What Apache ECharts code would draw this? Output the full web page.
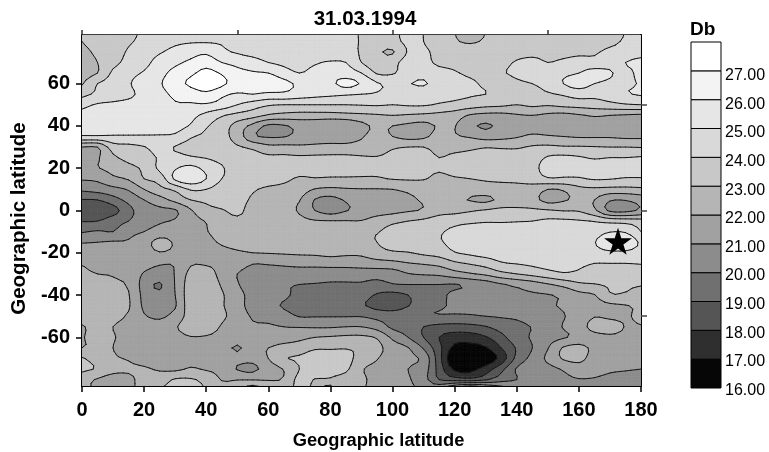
<!DOCTYPE html>
<html><head><meta charset="utf-8">
<style>html,body{margin:0;padding:0;background:#fff}#c{width:769px;height:452px}</style>
<script src="https://cdn.jsdelivr.net/npm/echarts@6/dist/echarts.min.js"></script>
</head><body><div id="c"></div>
<script>
const lons=[0,5,10,15,20,25,30,35,40,45,50,55,60,65,70,75,80,85,90,95,100,105,110,115,120,125,130,135,140,145,150,155,160,165,170,175,180];
const lats=[85,80,75,70,65,60,55,50,45,40,35,30,25,20,15,10,5,0,-5,-10,-15,-20,-25,-30,-35,-40,-45,-50,-55,-60,-65,-70,-75,-80,-85];
const xTicks=[0,20,40,60,80,100,120,140,160,180];
const yTicks=[-60,-40,-20,0,20,40,60];
const topTicks=[0,50,100,150];
const rightTicks=[-50,0,50];
const levels=[16,17,18,19,20,21,22,23,24,25,26,27];
const bandColors=['#060606','#2f2f2f','#555555','#707070','#8c8c8c','#a1a1a1','#b5b5b5','#c8c8c8','#d9d9d9','#e6e6e6','#f3f3f3','#ffffff'];
const star=[[172.6,-14.6]];
const r85=[23.0,23.3,23.5,23.8,24.1,24.3,24.5,24.6,24.6,24.5,24.5,24.5,24.5,24.5,24.5,24.5,24.4,24.3,23.9,23.6,23.8,24.2,24.0,23.6,23.0,22.7,23.0,23.3,23.4,23.5,23.5,23.5,23.6,23.7,23.8,24.0,24.2];
const r80=[23.0,23.4,23.6,23.9,24.2,24.5,24.8,24.9,24.9,24.9,24.8,24.7,24.6,24.6,24.6,24.6,24.5,24.4,23.9,23.5,23.7,24.2,24.0,23.7,23.1,22.9,23.1,23.3,23.4,23.5,23.5,23.5,23.6,23.7,23.8,24.1,24.3];
const r75=[22.7,23.2,23.6,24.1,24.5,24.9,25.3,25.6,25.8,25.2,24.9,24.7,24.6,24.5,24.5,24.5,24.4,24.3,23.9,23.2,22.9,24.1,24.1,23.8,23.5,23.4,23.5,23.6,23.6,23.7,23.7,23.7,23.8,23.9,24.2,24.4,24.6];
const r70=[22.6,23.0,23.7,24.3,24.7,25.4,25.8,26.2,26.6,26.0,25.7,25.4,25.0,24.8,24.7,24.9,25.1,25.0,24.0,23.4,23.7,24.4,24.3,23.8,23.7,23.6,23.5,23.7,24.1,24.3,24.0,24.2,24.4,24.3,24.6,25.0,25.3];
const r65=[22.6,23.0,24.2,24.7,25.1,25.7,26.3,26.8,27.3,26.9,26.3,26.1,26.0,25.4,25.0,25.3,25.6,25.5,25.0,23.9,23.9,24.5,24.6,24.4,24.1,23.8,23.6,23.9,24.2,24.5,24.6,24.8,25.0,25.4,25.1,24.7,25.4];
const r60=[22.9,24.0,24.4,24.9,25.5,25.9,26.6,27.2,27.8,27.2,26.6,26.4,26.7,26.3,25.8,25.5,25.8,26.3,25.9,25.1,24.8,24.95,25.1,24.6,24.4,24.2,23.8,23.5,23.8,24.0,24.3,25.0,25.4,25.0,24.8,24.8,25.1];
const r55=[23.7,24.2,24.5,24.8,25.3,25.7,26.2,26.4,26.7,26.2,25.9,26.0,25.8,25.8,25.5,25.3,25.2,25.1,25.0,24.9,24.6,24.5,24.4,24.4,24.3,24.1,24.0,23.8,23.5,23.7,23.9,24.1,24.4,24.3,24.5,24.9,25.1];
const r50=[24.7,25.1,25.2,25.3,25.4,25.5,25.9,25.9,25.9,25.6,25.0,24.5,24.1,24.0,24.0,24.0,24.0,24.0,24.05,24.1,24.0,24.1,24.1,23.9,23.7,23.5,23.3,23.2,23.0,23.2,23.1,23.3,23.4,23.5,23.7,23.9,24.0];
const r45=[25.3,25.5,25.6,25.6,25.6,25.6,25.6,25.3,24.7,24.1,23.7,23.4,22.9,22.7,22.6,22.6,22.6,22.7,22.8,22.9,23.0,22.9,22.8,22.7,22.5,21.9,21.7,21.7,21.9,22.0,21.8,21.7,21.9,22.1,22.0,21.9,21.8];
const r40=[25.4,25.5,25.5,25.5,25.5,25.5,25.4,24.9,24.1,23.5,22.6,21.7,20.8,20.9,21.3,21.3,21.1,21.1,21.7,22.2,22.0,21.8,21.7,22.1,22.05,21.2,20.9,21.2,21.4,21.5,21.4,21.3,21.4,21.5,21.5,21.4,21.2];
const r35=[24.9,24.9,24.9,24.9,24.9,24.9,24.8,24.1,23.8,23.3,22.6,21.2,20.9,20.95,21.3,21.6,21.5,21.5,21.9,22.4,22.0,21.7,21.8,22.4,22.1,21.9,21.6,21.7,21.9,22.2,22.1,22.0,21.9,21.9,21.9,21.8,21.8];
const r30=[22.0,22.0,23.5,23.7,23.95,24.4,23.95,23.7,23.6,23.4,23.1,22.8,22.3,22.3,22.2,22.2,22.3,22.3,22.4,22.6,22.9,23.0,23.0,22.7,22.7,22.8,22.95,22.9,22.9,23.1,23.2,23.1,23.1,23.05,23.0,23.0,22.95];
const r25=[21.8,21.9,22.8,23.3,23.6,24.1,24.3,24.1,23.95,23.7,23.5,23.4,23.2,23.2,23.15,23.2,23.2,23.2,23.1,23.05,23.2,23.3,23.3,23.0,23.2,23.3,23.4,23.4,23.4,23.5,24.1,24.2,24.1,23.9,24.0,24.0,24.1];
const r20=[21.6,21.95,22.3,22.7,23.2,24.2,24.9,25.3,24.7,24.1,23.6,24.0,23.5,23.4,23.3,23.3,23.3,23.3,23.2,23.2,23.4,23.4,23.3,23.1,23.4,23.4,23.5,23.6,23.6,23.7,24.4,24.2,24.4,24.5,24.6,24.6,24.6];
const r15=[21.1,21.2,21.8,22.1,23.0,23.4,25.2,25.7,25.0,24.0,23.7,23.6,23.5,23.2,22.9,22.95,22.9,22.9,22.9,22.9,23.05,23.1,23.05,22.8,22.9,23.0,23.1,23.15,23.2,23.4,23.9,23.9,23.9,24.1,24.05,23.9,23.9];
const r10=[20.2,20.4,20.7,21.1,22.0,22.7,23.2,24.1,24.0,23.5,23.3,23.1,22.8,22.7,22.5,21.95,21.8,21.9,21.95,21.95,22.0,22.2,22.5,22.8,22.6,22.5,22.6,22.7,22.7,22.6,22.0,22.1,22.7,22.8,22.7,22.7,22.8];
const r05=[18.95,19.0,19.6,20.3,21.0,21.6,22.3,23.0,23.2,23.3,23.2,22.9,22.5,22.3,22.05,20.95,20.7,21.1,21.5,21.5,21.6,21.8,22.1,22.2,22.2,21.95,21.8,22.2,22.3,22.3,21.7,21.9,22.2,22.0,21.1,21.05,21.4];
const r00=[18.2,18.1,18.6,19.7,20.5,20.8,20.9,21.9,22.7,22.95,23.1,22.8,22.6,22.3,21.9,21.0,20.6,20.95,21.3,21.5,21.7,21.9,22.1,22.6,22.7,22.9,23.1,23.3,23.3,23.2,23.1,22.95,22.9,22.2,20.8,20.7,21.2];
const s05=[18.95,19.0,19.6,20.0,20.6,20.9,21.1,21.7,22.05,22.7,22.9,22.85,22.6,22.5,22.3,22.1,22.05,22.05,22.05,22.5,22.8,23.0,23.2,23.5,23.7,23.8,23.9,23.9,23.95,24.0,24.2,24.2,24.1,23.95,23.7,23.6,23.4];
const s10=[19.9,20.1,20.0,20.7,21.0,21.4,21.6,21.8,21.95,22.4,22.7,22.7,22.7,22.7,22.8,22.9,22.9,22.9,22.9,22.95,23.3,23.5,23.6,23.9,24.2,24.5,24.6,24.6,24.6,24.7,24.8,24.8,24.8,24.6,24.95,24.9,24.0];
const s15=[20.95,21.0,21.1,21.1,21.6,22.3,21.9,21.8,21.8,22.1,22.3,22.3,22.4,22.4,22.5,22.7,22.8,22.8,22.8,23.0,23.5,23.6,23.7,23.9,24.3,24.6,24.7,24.8,24.8,24.8,24.8,24.8,24.8,24.95,25.7,25.7,24.8];
const s20=[21.4,21.4,21.4,21.5,21.6,21.95,21.8,21.7,21.7,21.8,21.9,22.0,22.05,22.1,22.15,22.2,22.3,22.2,22.2,22.6,22.85,22.95,23.2,23.4,23.95,24.2,24.4,24.5,24.6,24.7,24.8,24.8,24.8,24.7,24.8,24.8,24.6];
const s25=[21.95,21.8,21.7,21.6,21.4,21.1,21.1,21.9,21.9,21.8,21.5,21.05,21.1,21.2,21.3,21.3,21.4,21.4,21.5,21.6,21.7,21.95,22.1,22.3,22.8,23.1,23.4,23.9,24.05,24.2,24.4,24.4,24.2,24.0,24.0,24.0,24.05];
const s30=[22.1,22.0,21.95,21.7,20.9,20.6,21.05,22.3,22.4,21.7,21.0,20.6,20.5,20.5,20.5,20.5,20.4,20.4,20.4,20.4,20.5,20.95,21.1,21.2,21.6,21.9,22.2,22.7,23.0,23.3,23.6,23.9,23.8,23.6,23.5,23.5,23.5];
const s35=[22.3,22.2,22.1,21.9,20.6,19.9,21.05,22.5,22.6,21.9,21.1,20.4,20.3,20.1,20.0,19.95,19.9,19.9,19.9,19.7,19.95,20.0,20.0,20.0,19.95,20.2,20.5,20.9,21.2,21.5,21.9,22.3,22.8,22.95,23.1,23.1,23.05];
const s40=[22.4,22.4,22.2,22.05,20.7,20.2,21.0,22.6,22.7,22.1,21.4,20.6,20.4,20.2,19.7,19.6,19.5,19.5,19.4,18.9,18.7,19.0,19.6,19.8,20.2,20.4,20.6,20.8,20.85,20.9,20.95,21.2,21.7,21.95,22.9,22.9,22.7];
const s45=[22.6,22.5,22.3,22.1,20.8,20.4,20.9,22.6,22.7,22.1,21.4,20.6,20.3,19.9,19.5,19.4,19.3,19.2,19.1,18.7,18.5,18.95,19.6,19.9,20.1,20.3,20.6,20.7,20.8,20.8,20.9,21.1,21.4,21.7,21.8,21.95,22.2];
const s50=[22.5,22.5,22.2,21.9,21.1,20.8,21.4,22.4,22.6,22.2,21.5,20.9,20.7,20.4,19.95,19.95,19.95,19.95,19.95,19.7,19.6,19.8,19.9,19.95,19.9,19.9,20.0,20.1,20.2,20.5,20.7,20.95,21.4,21.95,21.8,21.9,22.2];
const s55=[21.9,22.3,22.0,21.8,21.6,21.5,21.9,22.5,22.5,21.9,21.3,21.1,21.1,21.0,20.95,20.9,20.9,21.0,21.0,20.6,19.8,19.6,19.0,18.7,18.6,18.7,18.95,19.4,19.7,20.05,20.5,21.05,21.5,22.4,22.5,21.95,21.95];
const s60=[21.9,22.4,22.05,21.8,21.7,21.6,21.7,21.95,21.9,21.7,21.4,21.2,21.1,21.3,21.7,22.0,22.1,22.2,22.2,21.9,20.8,20.0,19.0,18.0,17.5,17.5,17.9,18.7,19.6,20.1,20.6,20.9,21.3,21.6,21.8,21.8,21.7];
const s65=[22.0,22.2,22.0,21.7,21.6,21.6,21.6,21.6,21.5,21.4,20.9,21.5,22.0,22.5,22.6,22.9,22.9,22.95,22.8,22.3,21.5,21.05,19.9,18.3,16.7,16.6,16.9,18.0,19.1,20.0,20.95,22.1,22.3,21.8,21.8,21.8,21.8];
const s70=[23.1,22.6,22.1,21.95,21.7,21.6,21.7,21.7,21.5,21.4,21.3,21.3,22.0,22.9,23.1,23.4,23.5,23.3,22.6,22.05,21.5,21.2,20.7,18.4,16.0,15.8,16.2,17.4,19.3,20.3,21.2,22.1,22.2,21.7,21.7,21.7,21.7];
const s75=[23.2,22.9,22.3,22.1,22.1,21.9,21.8,22.1,21.9,21.7,20.95,20.8,21.5,22.05,23.0,23.6,23.6,23.2,22.1,21.7,21.4,21.0,20.5,18.6,16.8,16.7,17.5,18.7,20.1,20.6,20.7,21.1,21.6,21.5,21.2,21.1,21.0];
const s80=[22.4,21.9,21.5,21.8,22.3,22.5,23.1,23.1,22.7,21.95,21.97,21.95,21.95,22.1,23.3,22.95,22.9,22.5,22.2,21.6,21.3,21.1,20.4,19.0,18.6,18.4,18.9,19.6,20.0,20.4,20.6,20.8,20.95,20.9,20.7,20.6,20.5];
const s85=[22.4,21.7,21.0,21.6,22.6,23.1,23.3,23.3,23.0,22.5,22.8,24.0,22.7,22.7,23.2,22.9,23.2,22.6,22.1,21.6,21.3,21.2,21.0,21.5,23.5,25.0,23.5,22.0,21.0,20.6,20.6,20.8,20.9,20.8,20.6,20.5,20.4];
const rows=[r85,r80,r75,r70,r65,r60,r55,r50,r45,r40,r35,r30,r25,r20,r15,r10,r05,r00,s05,s10,s15,s20,s25,s30,s35,s40,s45,s50,s55,s60,s65,s70,s75,s80,s85];

// Contours are traced through a smooth surface over the values
const SUB=3;
function cr(p0,p1,p2,p3,t){return 0.5*((2*p1)+(-p0+p2)*t+(2*p0-5*p1+4*p2-p3)*t*t+(-p0+3*p1-3*p2+p3)*t*t*t);}
function fineSample(line){
  const out=[],n=line.length;
  for(let i=0;i<n-1;i++)for(let s=0;s<SUB;s++){
    out.push(cr(line[Math.max(i-1,0)],line[i],line[i+1],line[Math.min(i+2,n-1)],s/SUB));
  }
  out.push(line[n-1]);return out;
}
const fineByRow=rows.map(fineSample);
const fineCols=fineByRow[0].map((_,i)=>fineSample(fineByRow.map(r=>r[i])));
const fineLon=fineSample(lons),fineLat=fineSample(lats);
const cells=[];
for(let j=0;j<fineLat.length-1;j++)for(let i=0;i<fineLon.length-1;i++){
  cells.push([fineLon[i],fineLat[j],fineLon[i+1],fineLat[j+1],fineCols[i][j],fineCols[i+1][j],fineCols[i+1][j+1],fineCols[i][j+1]]);
}
function clipAbove(poly,L,sign){
  const out=[];
  for(let k=0;k<poly.length;k++){
    const a=poly[k],b=poly[(k+1)%poly.length];
    const da=sign*(a[2]-L),db=sign*(b[2]-L);
    if(da>=0)out.push(a);
    if((da>=0)!==(db>=0)){const t=da/(da-db);out.push([a[0]+t*(b[0]-a[0]),a[1]+t*(b[1]-a[1]),L]);}
  }
  return out;
}
function corners(api){
  const p=[api.coord([api.value(0),api.value(1)]),api.coord([api.value(2),api.value(1)]),
           api.coord([api.value(2),api.value(3)]),api.coord([api.value(0),api.value(3)])];
  return p.map((c,k)=>[c[0],c[1],api.value(4+k)]);
}
function renderFill(params,api){
  const q=corners(api),children=[];
  levels.forEach((L,b)=>{
    let poly=b===0?q:clipAbove(q,L,1);
    if(b<levels.length-1&&poly.length)poly=clipAbove(poly,levels[b+1],-1);
    if(poly.length>=3){
      children.push({type:'polygon',shape:{points:poly.map(v=>[v[0],v[1]])},
        style:{fill:bandColors[b],stroke:bandColors[b],lineWidth:0.7}});
    }
  });
  return {type:'group',children};
}
function renderLines(params,api){
  const q=corners(api),children=[];
  levels.slice(1).forEach(L=>{
    const pts=[];
    for(let k=0;k<4;k++){
      const a=q[k],b=q[(k+1)%4];
      if((a[2]>=L)!==(b[2]>=L)){const t=(L-a[2])/(b[2]-a[2]);pts.push([a[0]+t*(b[0]-a[0]),a[1]+t*(b[1]-a[1])]);}
    }
    for(let k=0;k+1<pts.length;k+=2){
      children.push({type:'line',shape:{x1:pts[k][0],y1:pts[k][1],x2:pts[k+1][0],y2:pts[k+1][1]},
        style:{stroke:'#151515',lineWidth:1,lineCap:'round'}});
    }
  });
  return {type:'group',children};
}
const legendData=levels.map((L,b)=>[L,L+1,b]);
function renderLegend(params,api){
  const a=api.coord([0,api.value(1)]),b=api.coord([1,api.value(0)]);
  return {type:'rect',shape:{x:a[0],y:a[1],width:b[0]-a[0],height:b[1]-a[1]},
    style:{fill:bandColors[api.value(2)],stroke:'#000',lineWidth:1}};
}
const FONT='"Liberation Sans",Arial,sans-serif';
const starPath='path://M50 0 L61.8 36.3 L100 36.3 L69.1 58.8 L80.9 95.1 L50 72.7 L19.1 95.1 L30.9 58.8 L0 36.3 L38.2 36.3 Z';
const chart=echarts.init(document.getElementById('c'),null,{renderer:'canvas'});
chart.setOption({
  animation:false,backgroundColor:'#fff',
  title:[
    {text:'31.03.1994',left:360,top:4,textAlign:'center',textStyle:{fontFamily:FONT,fontWeight:'bold',fontSize:20.5,color:'#000'}},
    {text:'Db',left:685,top:15,textStyle:{fontFamily:FONT,fontWeight:'bold',fontSize:19,color:'#000'}}
  ],
  grid:[
    {left:82,top:35,width:559,height:351,outerBoundsMode:'none'},
    {left:691,top:42,width:30,height:346,outerBoundsMode:'none'},
    {left:691,top:47,width:30,height:343.6,outerBoundsMode:'none'}
  ],
  xAxis:[
    {type:'value',gridIndex:0,min:0,max:180,interval:20,position:'bottom',
     name:'Geographic latitude',nameLocation:'middle',nameGap:46,
     nameTextStyle:{fontFamily:FONT,fontWeight:'bold',fontSize:18.3,color:'#000',padding:[0,0,0,34]},
     splitLine:{show:false},axisLine:{onZero:false,lineStyle:{color:'#000',width:2}},
     axisTick:{show:true,length:6,lineStyle:{color:'#000',width:1.5},customValues:xTicks},
     axisLabel:{fontFamily:FONT,fontWeight:'bold',fontSize:20,color:'#000',margin:14,customValues:xTicks}},
    {type:'value',gridIndex:0,min:0,max:180,position:'top',splitLine:{show:false},
     axisLine:{onZero:false,lineStyle:{color:'#000',width:1.5}},axisTick:{show:true,length:5,lineStyle:{color:'#333',width:1.5},customValues:topTicks},
     axisLabel:{show:false}},
    {type:'value',gridIndex:1,min:0,max:1,show:false},
    {type:'value',gridIndex:2,min:0,max:1,show:false}
  ],
  yAxis:[
    {type:'value',gridIndex:0,min:-83,max:83,position:'left',
     name:'Geographic latitude',nameLocation:'middle',nameGap:47,
     nameTextStyle:{fontFamily:FONT,fontWeight:'bold',fontSize:20.5,color:'#000',padding:[0,16,0,0]},
     splitLine:{show:false},axisLine:{onZero:false,lineStyle:{color:'#000',width:2}},
     axisTick:{show:true,length:6,lineStyle:{color:'#000',width:1.5},customValues:yTicks},
     axisLabel:{fontFamily:FONT,fontWeight:'bold',fontSize:20,color:'#000',margin:12,customValues:yTicks}},
    {type:'value',gridIndex:0,min:-83,max:83,position:'right',splitLine:{show:false},
     axisLine:{onZero:false,lineStyle:{color:'#000',width:2}},axisTick:{show:true,length:6,lineStyle:{color:'#444',width:1.5},customValues:rightTicks},
     axisLabel:{show:false}},
    {type:'value',gridIndex:1,min:16,max:28,show:false},
    {type:'value',gridIndex:2,min:16,max:28,position:'right',splitLine:{show:false},
     axisLine:{show:false},axisTick:{show:false},
     axisLabel:{fontFamily:FONT,fontSize:16,color:'#000',margin:4,customValues:levels,formatter:v=>v.toFixed(2)}}
  ],
  series:[
    {type:'custom',name:'fill',xAxisIndex:0,yAxisIndex:0,clip:true,silent:true,z:1,renderItem:renderFill,data:cells,encode:{x:[0,2],y:[1,3]},progressive:0},
    {type:'custom',name:'contours',xAxisIndex:0,yAxisIndex:0,clip:true,silent:true,z:2,renderItem:renderLines,data:cells,encode:{x:[0,2],y:[1,3]},progressive:0},
    {type:'scatter',name:'star',xAxisIndex:0,yAxisIndex:0,z:3,symbol:starPath,symbolSize:[28,27],itemStyle:{color:'#000',opacity:1},data:star,silent:true},
    {type:'custom',name:'legend',xAxisIndex:2,yAxisIndex:2,silent:true,renderItem:renderLegend,data:legendData,encode:{y:[0,1]}}
  ]
});
</script></body></html>
